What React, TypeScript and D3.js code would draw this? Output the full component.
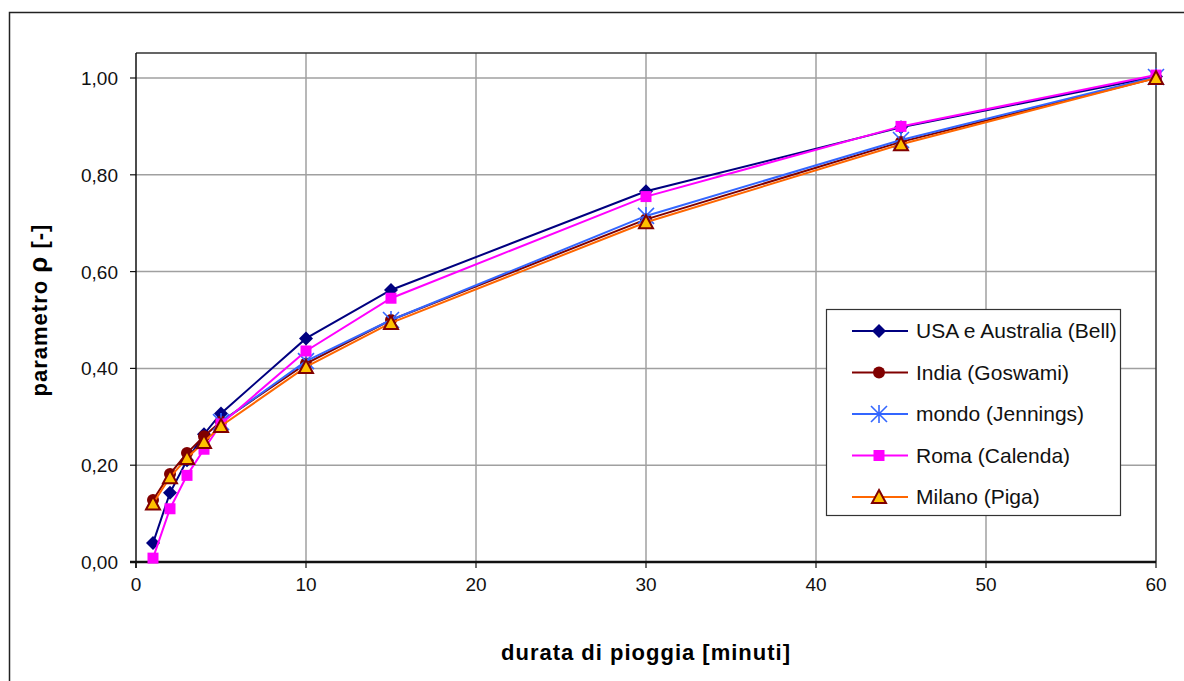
import { useEffect, useRef } from "react";
import * as d3 from "d3";

const WIDTH = 1184;
const HEIGHT = 681;
const MARGIN = { top: 53, right: 28, bottom: 119, left: 136 };

// durata [minuti]
const durations = [1, 2, 3, 4, 5, 10, 15, 30, 45, 60];
const bell = [0.039, 0.143, 0.21, 0.264, 0.307, 0.462, 0.562, 0.766, 0.898, 1.003];
const goswami = [0.128, 0.182, 0.225, 0.26, 0.29, 0.41, 0.5, 0.708, 0.868, 1.0];
const jenningsDurations = [5, 10, 15, 30, 45, 60];
const jennings = [0.289, 0.415, 0.5, 0.715, 0.872, 1.002];
const calenda = [0.008, 0.11, 0.179, 0.233, 0.285, 0.436, 0.545, 0.755, 0.9, 1.006];
const piga = [0.121, 0.175, 0.215, 0.248, 0.281, 0.403, 0.494, 0.702, 0.863, 1.0];

const xTicks = [0, 10, 20, 30, 40, 50, 60];
const yTicks = [0, 0.2, 0.4, 0.6, 0.8, 1.0];

type Marker = "diamond" | "circle" | "asterisk" | "square" | "triangle";
interface Series {
    name: string;
    xs: number[];
    ys: number[];
    color: string;
    marker: Marker;
    fill: string;
}

const series: Series[] = [
    { name: "USA e Australia (Bell)", xs: durations, ys: bell, color: "#000080", marker: "diamond", fill: "#000080" },
    { name: "India (Goswami)", xs: durations, ys: goswami, color: "#800000", marker: "circle", fill: "#800000" },
    { name: "mondo (Jennings)", xs: jenningsDurations, ys: jennings, color: "#3366FF", marker: "asterisk", fill: "none" },
    { name: "Roma (Calenda)", xs: durations, ys: calenda, color: "#FF00FF", marker: "square", fill: "#FF00FF" },
    { name: "Milano (Piga)", xs: durations, ys: piga, color: "#FF6600", marker: "triangle", fill: "#FFC000" },
];

const FONT = "'Liberation Sans', Arial, sans-serif";

function drawMarker(g: d3.Selection<SVGGElement, unknown, null, undefined>, s: Series, x: number, y: number) {
    if (s.marker === "diamond") {
        g.append("path").attr("d", `M${x},${y - 7}L${x + 7},${y}L${x},${y + 7}L${x - 7},${y}Z`).attr("fill", s.fill);
    } else if (s.marker === "circle") {
        g.append("circle").attr("cx", x).attr("cy", y).attr("r", 6).attr("fill", s.fill);
    } else if (s.marker === "square") {
        g.append("rect").attr("x", x - 5.5).attr("y", y - 5.5).attr("width", 11).attr("height", 11).attr("fill", s.fill);
    } else if (s.marker === "triangle") {
        g.append("path")
            .attr("d", `M${x},${y - 7}L${x + 7},${y + 6}L${x - 7},${y + 6}Z`)
            .attr("fill", s.fill)
            .attr("stroke", "#800000")
            .attr("stroke-width", 2);
    } else {
        const r = 8;
        g.append("path")
            .attr("d", `M${x - r},${y - r}L${x + r},${y + r}M${x - r},${y + r}L${x + r},${y - r}M${x},${y - r - 1}L${x},${y + r + 1}`)
            .attr("stroke", s.color)
            .attr("stroke-width", 1.6)
            .attr("fill", "none");
    }
}

export default function App() {
    const ref = useRef<SVGSVGElement>(null);

    useEffect(() => {
        const svg = d3.select(ref.current);
        svg.selectAll("*").remove();

        const boundsWidth = WIDTH - MARGIN.left - MARGIN.right;
        const xScale = d3.scaleLinear().domain([0, 60]).range([MARGIN.left, MARGIN.left + boundsWidth]);
        const yScale = d3.scaleLinear().domain([0, 1.0]).range([562, 78]);

        // outer frame (only top and left edges are in view)
        svg.append("path")
            .attr("d", `M9.5,${HEIGHT + 10}V12.5H${WIDTH + 10}`)
            .attr("fill", "none").attr("stroke", "#222").attr("stroke-width", 1.5);

        // grid
        const grid = svg.append("g").attr("stroke", "#a0a0a0").attr("stroke-width", 1.5);
        xTicks.slice(1, -1).forEach((t) => {
            grid.append("line").attr("x1", xScale(t)).attr("x2", xScale(t)).attr("y1", MARGIN.top).attr("y2", yScale(0));
        });
        yTicks.slice(1).forEach((t) => {
            grid.append("line").attr("x1", MARGIN.left).attr("x2", MARGIN.left + boundsWidth).attr("y1", yScale(t)).attr("y2", yScale(t));
        });

        // plot frame
        svg.append("path")
            .attr("d", `M${MARGIN.left},${MARGIN.top}H${MARGIN.left + boundsWidth}V${yScale(0)}`)
            .attr("fill", "none").attr("stroke", "#333").attr("stroke-width", 1.5);

        // axes
        const axes = svg.append("g").attr("stroke", "#111");
        axes.append("line").attr("x1", MARGIN.left).attr("x2", MARGIN.left).attr("y1", MARGIN.top).attr("y2", yScale(0) + 6).attr("stroke-width", 1.5);
        axes.append("line").attr("x1", MARGIN.left - 6).attr("x2", MARGIN.left + boundsWidth).attr("y1", yScale(0)).attr("y2", yScale(0)).attr("stroke-width", 2.5);
        yTicks.forEach((t) => {
            axes.append("line").attr("x1", MARGIN.left - 6).attr("x2", MARGIN.left).attr("y1", yScale(t)).attr("y2", yScale(t)).attr("stroke-width", 1.2);
            svg.append("text")
                .attr("x", 118).attr("y", yScale(t) + 7)
                .attr("text-anchor", "end").attr("font-family", FONT).attr("font-size", 19).attr("fill", "#111")
                .text(d3.format(".2f")(t).replace(".", ","));
        });
        xTicks.forEach((t) => {
            axes.append("line").attr("x1", xScale(t)).attr("x2", xScale(t)).attr("y1", yScale(0)).attr("y2", yScale(0) + 6).attr("stroke-width", 1.2);
            svg.append("text")
                .attr("x", xScale(t)).attr("y", 591)
                .attr("text-anchor", "middle").attr("font-family", FONT).attr("font-size", 19).attr("fill", "#111")
                .text(t);
        });

        // axis titles
        svg.append("text")
            .attr("x", 646).attr("y", 660)
            .attr("text-anchor", "middle").attr("font-family", FONT).attr("font-size", 22).attr("font-weight", "bold")
            .attr("letter-spacing", 1)
            .text("durata di pioggia [minuti]");
        const yTitle = svg.append("text")
            .attr("transform", "translate(47,310) rotate(-90)")
            .attr("text-anchor", "middle").attr("font-family", FONT).attr("font-size", 22).attr("font-weight", "bold")
            .attr("letter-spacing", 1);
        yTitle.append("tspan").text("parametro ");
        yTitle.append("tspan").attr("font-size", 26).text("ρ");
        yTitle.append("tspan").text(" [-]");

        // series
        series.forEach((s) => {
            const pts: [number, number][] = s.xs.map((x, i) => [xScale(x), yScale(s.ys[i])]);
            svg.append("path")
                .attr("d", d3.line()(pts) as string)
                .attr("fill", "none").attr("stroke", s.color).attr("stroke-width", 2);
            const mg = svg.append("g");
            pts.forEach(([x, y]) => drawMarker(mg, s, x, y));
        });

        // legend
        const lg = svg.append("g");
        lg.append("rect").attr("x", 826.5).attr("y", 309.5).attr("width", 294).attr("height", 206)
            .attr("fill", "white").attr("stroke", "#333").attr("stroke-width", 1.2);
        series.forEach((s, i) => {
            const y = 331 + i * 41.5;
            lg.append("line").attr("x1", 852).attr("x2", 908).attr("y1", y).attr("y2", y).attr("stroke", s.color).attr("stroke-width", 2);
            const mg = lg.append("g");
            drawMarker(mg, s, 879, y);
            lg.append("text").attr("x", 916).attr("y", y + 7).attr("font-family", FONT).attr("font-size", 21).attr("fill", "#111").text(s.name);
        });
    }, []);

    return (
        <div style={{ position: "fixed", left: 0, top: 0, width: WIDTH, height: HEIGHT, overflow: "hidden", background: "white" }}>
            <svg ref={ref} width={WIDTH} height={HEIGHT} style={{ display: "block" }} />
        </div>
    );
}
